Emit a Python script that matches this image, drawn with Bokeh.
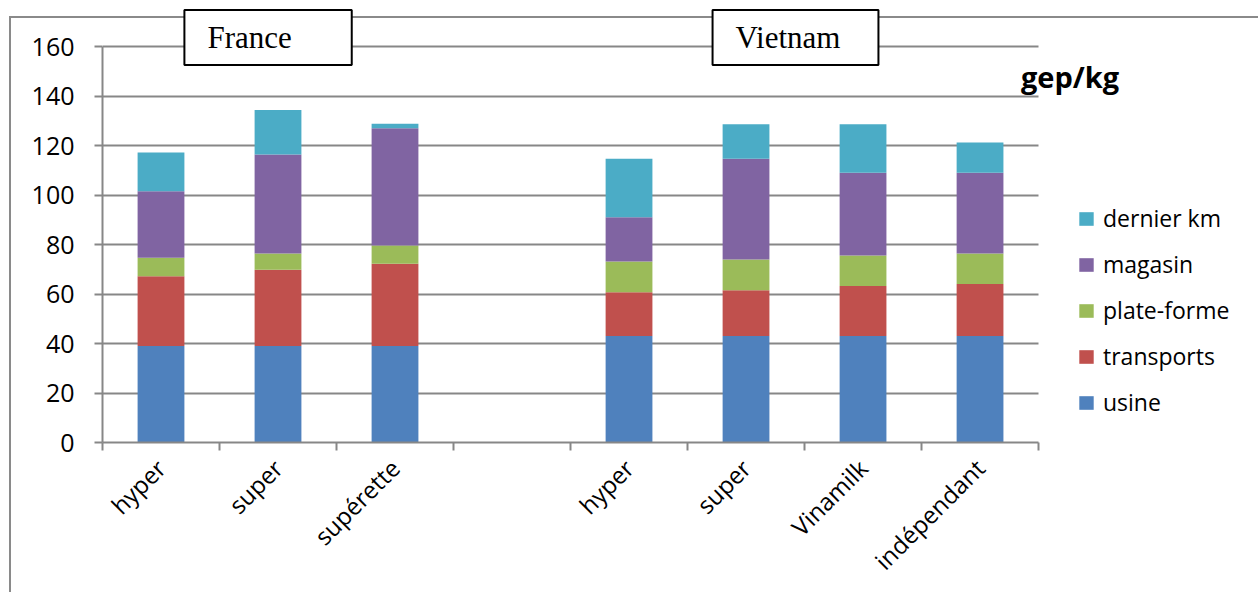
from bokeh.plotting import figure
from bokeh.models import (ColumnDataSource, Range1d, FixedTicker, Legend, LegendItem,
                          Label)
from bokeh.embed import file_html
from bokeh.resources import INLINE

# ---- data ----
categories = ["hyper", "super", "supérette", "", "hyper", "super", "Vinamilk", "indépendant"]
series = ["usine", "transports", "plate-forme", "magasin", "dernier km"]
usine = [39, 39, 39, 0, 43, 43, 43, 43]
transports = [28.2, 30.8, 33.2, 0, 17.7, 18.5, 20.2, 21.0]
plate_forme = [7.5, 6.6, 7.4, 0, 12.4, 12.4, 12.4, 12.4]
magasin = [26.8, 40.0, 47.4, 0, 17.9, 40.8, 33.4, 32.6]
dernier_km = [15.7, 18.0, 1.8, 0, 23.7, 13.9, 19.6, 12.2]
y_ticks = [0, 20, 40, 60, 80, 100, 120, 140, 160]
group_titles = ["France", "Vietnam"]
unit_label = "gep/kg"

colors = ["#4F81BD", "#C0504D", "#9BBB59", "#8064A2", "#4BACC6"]
GRID = "#878787"
FONT = "Open Sans"

n = len(categories)
x = [i + 0.5 for i in range(n)]
src = ColumnDataSource(dict(x=x, **{
    "usine": usine, "transports": transports, "plate-forme": plate_forme,
    "magasin": magasin, "dernier km": dernier_km}))

# frame spans to the right edge and top of the canvas so that titles, unit and
# legend can live inside it; axes/grids are bounded to the real data area
p = figure(width=1258, height=592, output_backend="svg", toolbar_location=None,
           x_range=Range1d(0, 9.88), y_range=Range1d(0, 178.6),
           min_border_left=102, min_border_right=0, min_border_top=0,
           min_border_bottom=150)
p.outline_line_color = None
p.background_fill_alpha = 0
p.border_fill_alpha = 0
# outer chart-area border (left and top grey lines)
p.styles = {
    "background": ("linear-gradient(#8a8a8a,#8a8a8a) 9px 16px / 2px 600px no-repeat, "
                   "linear-gradient(#8a8a8a,#8a8a8a) 9px 16px / 1300px 2px no-repeat, white"),
}

renderers = p.vbar_stack(series, x="x", width=0.4, color=colors, source=src,
                         line_color=None)

# y axis
p.yaxis.ticker = FixedTicker(ticks=y_ticks)
p.yaxis.bounds = (0, 160)
p.yaxis.axis_line_color = GRID
p.yaxis.axis_line_width = 2
p.yaxis.major_tick_line_color = GRID
p.yaxis.major_tick_line_width = 2
p.yaxis.major_tick_out = 8
p.yaxis.major_tick_in = 0
p.yaxis.minor_tick_line_color = None
p.yaxis.major_label_text_font = FONT
p.yaxis.major_label_text_font_size = "25px"
p.yaxis.major_label_text_color = "black"
p.yaxis.major_label_standoff = 20

# x axis
lab_ticks = [xi for xi, c in zip(x, categories) if c]
p.xaxis.ticker = FixedTicker(ticks=lab_ticks, minor_ticks=list(range(n + 1)))
p.xaxis.bounds = (0, n)
p.xaxis.major_label_overrides = {xi: c for xi, c in zip(x, categories) if c}
p.xaxis.axis_line_color = GRID
p.xaxis.axis_line_width = 2
p.xaxis.major_tick_line_color = None
p.xaxis.major_tick_out = 0
p.xaxis.major_tick_in = 0
p.xaxis.minor_tick_line_color = GRID
p.xaxis.minor_tick_line_width = 2
p.xaxis.minor_tick_out = 8
p.xaxis.minor_tick_in = 0
p.xaxis.major_label_orientation = 0.785398
p.xaxis.major_label_text_font = FONT
p.xaxis.major_label_text_font_size = "24px"
p.xaxis.major_label_text_color = "black"
p.xaxis.major_label_standoff = 13

p.xgrid.grid_line_color = None
p.ygrid.grid_line_color = GRID
p.ygrid.grid_line_width = 2
p.ygrid.bounds = (0, 160)
p.ygrid.cross_bounds = (0, n)

# group title boxes
for gx, title, rpad in [(0.70, group_titles[0], 60), (5.214, group_titles[1], 38)]:
    p.add_layout(Label(x=gx, y=163.6, text=title, text_font="Liberation Serif",
                       text_font_size="31px", text_baseline="middle", text_color="black",
                       background_fill_color="white", border_line_color="black",
                       border_line_width=2,
                       padding=dict(left=23, right=rpad, top=10, bottom=10)))

# unit label
p.add_layout(Label(x=7.85, y=148.0, text=unit_label, text_font=FONT,
                   text_font_style="bold", text_font_size="29px",
                   text_baseline="alphabetic", text_color="black"))

legend = Legend(items=[LegendItem(label=s, renderers=[r])
                       for s, r in reversed(list(zip(series, renderers)))],
                location=(975, 24))
legend.padding = 0
legend.margin = 0
legend.border_line_color = None
legend.background_fill_alpha = 0
legend.glyph_width = 18
legend.glyph_height = 17
legend.label_height = 28
legend.label_standoff = 8
legend.spacing = 14
legend.label_text_font = FONT
legend.label_text_font_size = "23px"
legend.label_text_color = "black"
p.add_layout(legend)

open("out.html", "w").write(file_html(p, INLINE))
